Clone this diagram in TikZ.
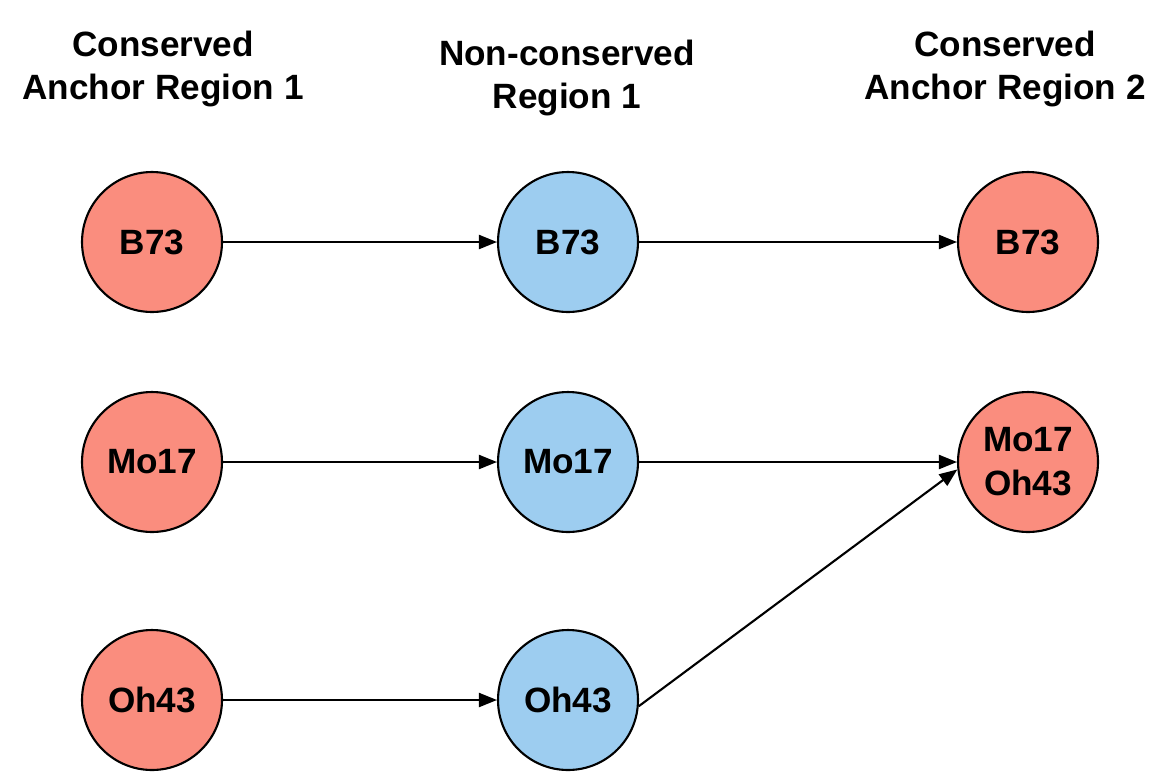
\documentclass[tikz,border=0pt]{standalone}
\usepackage{fontspec}
\setmainfont{Liberation Sans}
\usepackage{xcolor}
\usetikzlibrary{positioning,arrows.meta}
\definecolor{anchorred}{HTML}{FA8D7E}
\definecolor{nonblue}{HTML}{9DCDF0}

\begin{document}
\begin{tikzpicture}[x=0.02cm, y=-0.02cm, font=\bfseries\fontsize{20}{25}\selectfont,
		anc/.style={circle, draw, line width=1.2pt, fill=anchorred, minimum size=2.8cm, inner sep=0pt, align=center},
		ncr/.style={anc, fill=nonblue},
		hdr/.style={align=center, font=\bfseries\fontsize{20}{24.5}\selectfont},
		link/.style={-{Triangle[length=3.6mm, width=2.8mm]}, line width=1.2pt}]
		\useasboundingbox (0,0) rectangle (1158,771);
		% column headers
		\node[hdr] (h1) at (163,69) {Conserved\\Anchor Region 1};
		\node[hdr] (h2) at (567,78) {Non-conserved\\Region 1};
		\node[hdr] (h3) at (1005,69) {Conserved\\Anchor Region 2};
		% anchor region 1
		\node[anc] (b73a) at (152,242) {B73};
		\node[anc] (mo17a) at (152,462) {Mo17};
		\node[anc] (oh43a) at (152,700) {Oh43};
		% non-conserved region
		\node[ncr] (b73n) at (568,242) {B73};
		\node[ncr] (mo17n) at (568,462) {Mo17};
		\node[ncr] (oh43n) at (568,700) {Oh43};
		% anchor region 2
		\node[anc] (b73b) at (1028,242) {B73};
		\node[anc] (mixb) at (1028,462) {Mo17\\Oh43};
		% connectors
		\draw[link] (b73a) -- (b73n);
		\draw[link] (mo17a) -- (mo17n);
		\draw[link] (oh43a) -- (oh43n);
		\draw[link] (b73n) -- (b73b);
		\draw[link] (mo17n) -- (mixb);
		\draw[link] (oh43n.355) -- (mixb.186);
	\end{tikzpicture}
\end{document}
